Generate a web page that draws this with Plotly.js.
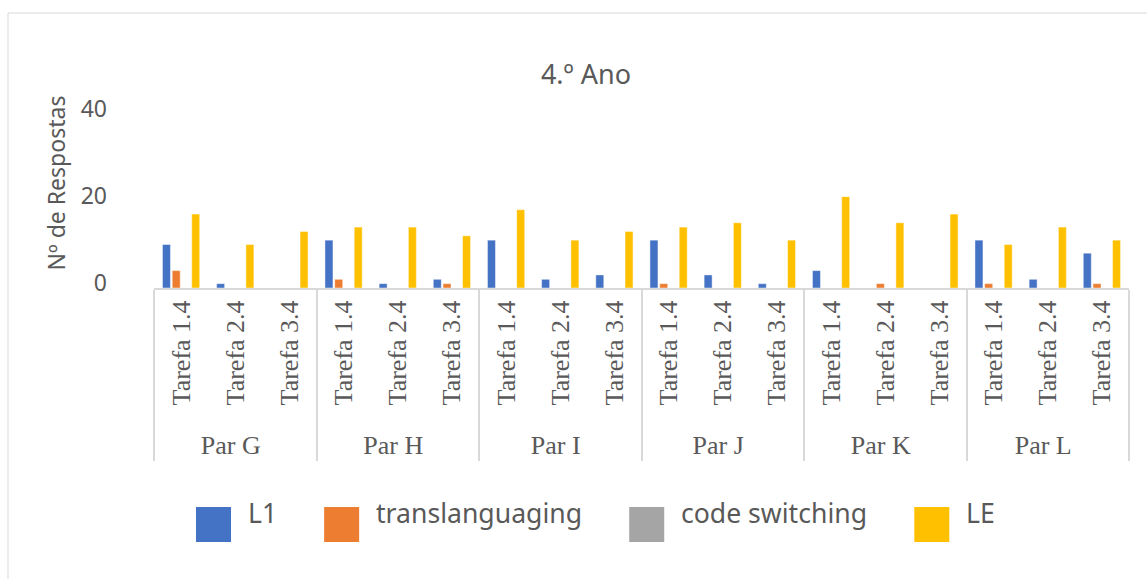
<!DOCTYPE html>
<html>
<head>
<meta charset="utf-8">
<script src="https://cdn.plot.ly/plotly-3.0.1.min.js"></script>
<style>html,body{margin:0;padding:0;background:#fff;}#chart{width:1147px;height:579px;}</style>
</head>
<body>
<div id="chart"></div>
<script>
// ---- data ----
const pairs = ['Par G', 'Par H', 'Par I', 'Par J', 'Par K', 'Par L'];
const tasks = ['Tarefa 1.4', 'Tarefa 2.4', 'Tarefa 3.4'];
const seriesNames = ['L1', 'translanguaging', 'code switching', 'LE'];
const seriesColors = ['#4472C4', '#ED7D31', '#A5A5A5', '#FFC000'];
const valuesL1 = [10, 1, null, 11, 1, 2, 11, 2, 3, 11, 3, 1, 4, null, null, 11, 2, 8];
const valuesTrans = [4, 0, null, 2, null, 1, 0, null, null, 1, null, null, null, 1, null, 1, null, 1];
const valuesCode = [null, null, null, null, null, null, null, null, null, null, null, null, null, null, null, null, null, null];
const valuesLE = [17, 10, 13, 14, 14, 12, 18, 11, 13, 14, 15, 11, 21, 15, 17, 10, 14, 11];
const yTicks = [0, 20, 40];

// ---- build ----
const outer = [], inner = [];
pairs.forEach(p => tasks.forEach(t => { outer.push(p); inner.push(t); }));
const allValues = [valuesL1, valuesTrans, valuesCode, valuesLE];

const W = 1147, H = 579;
const plotL = 154, plotR = 1129, plotT = 78, plotB = 288;
const pw = plotR - plotL, ph = plotB - plotT;
const px = v => (v - plotL) / pw;
const py = v => (plotB - v) / ph;
const textColor = '#595959';
const fam = 'Noto Sans, Open Sans, sans-serif';

const traces = allValues.map((vals, i) => ({
  type: 'bar',
  name: seriesNames[i],
  x: [outer, inner],
  y: vals,
  marker: {color: seriesColors[i], line: {color: 'rgba(255,255,255,0.45)', width: 1}},
  hoverinfo: 'x+y+name'
}));

// legend built from names/colours
const cv = document.createElement('canvas').getContext('2d');
const legFont = 26.6;
cv.font = legFont + 'px "Noto Sans"';
const shapes = [];
const annotations = [];
let cx = 196;
const sq = 35, sqTop = 507;
seriesNames.forEach((n, i) => {
  shapes.push({type: 'rect', xref: 'paper', yref: 'paper',
    x0: px(cx), x1: px(cx + sq), y0: py(sqTop + sq), y1: py(sqTop),
    fillcolor: seriesColors[i], line: {width: 0}});
  const tx = cx + sq + 15;
  annotations.push({xref: 'paper', yref: 'paper', x: px(tx), y: py(513),
    xanchor: 'left', yanchor: 'middle', showarrow: false, text: n,
    font: {family: fam, size: legFont, color: textColor}});
  cx = tx + cv.measureText(n).width + 49;
});
// chart border
shapes.push({type: 'rect', xref: 'paper', yref: 'paper',
  x0: px(8), x1: px(1160), y0: py(590), y1: py(13),
  line: {color: '#D9D9D9', width: 1}, fillcolor: 'rgba(0,0,0,0)', layer: 'below'});

const layout = {
  width: W, height: H,
  margin: {l: plotL, r: W - plotR, t: plotT, b: H - plotB, pad: 0},
  paper_bgcolor: '#fff', plot_bgcolor: '#fff',
  font: {family: fam, color: textColor},
  showlegend: false,
  barmode: 'group', bargap: 0.28, bargroupgap: 0.18,
  title: {text: '4.º Ano', font: {family: fam, size: 27, color: textColor},
    x: 586 / W, xref: 'container', xanchor: 'center',
    y: 1 - 75 / H, yref: 'container', yanchor: 'middle'},
  xaxis: {
    type: 'multicategory', tickangle: -90,
    tickfont: {family: 'Liberation Serif, serif', size: 26, color: textColor},
    showline: true, linecolor: '#D9D9D9', linewidth: 2,
    showdividers: true, dividercolor: '#D9D9D9', dividerwidth: 2,
    ticks: '', showgrid: false, zeroline: false, automargin: false
  },
  yaxis: {
    range: [0, ph / 4.35], tickvals: yTicks, ticktext: yTicks.map(String),
    showline: false, showgrid: false, zeroline: false, ticks: '',
    tickfont: {family: fam, size: 23, color: textColor},
    ticklabelstandoff: 46, ticklabelshift: -5, automargin: false,
    title: {text: 'Nº de Respostas', font: {family: fam, size: 23, color: textColor}, standoff: 8}
  },
  shapes: shapes,
  annotations: annotations
};

Plotly.newPlot('chart', traces, layout, {displayModeBar: false, staticPlot: true});
</script>
</body>
</html>
